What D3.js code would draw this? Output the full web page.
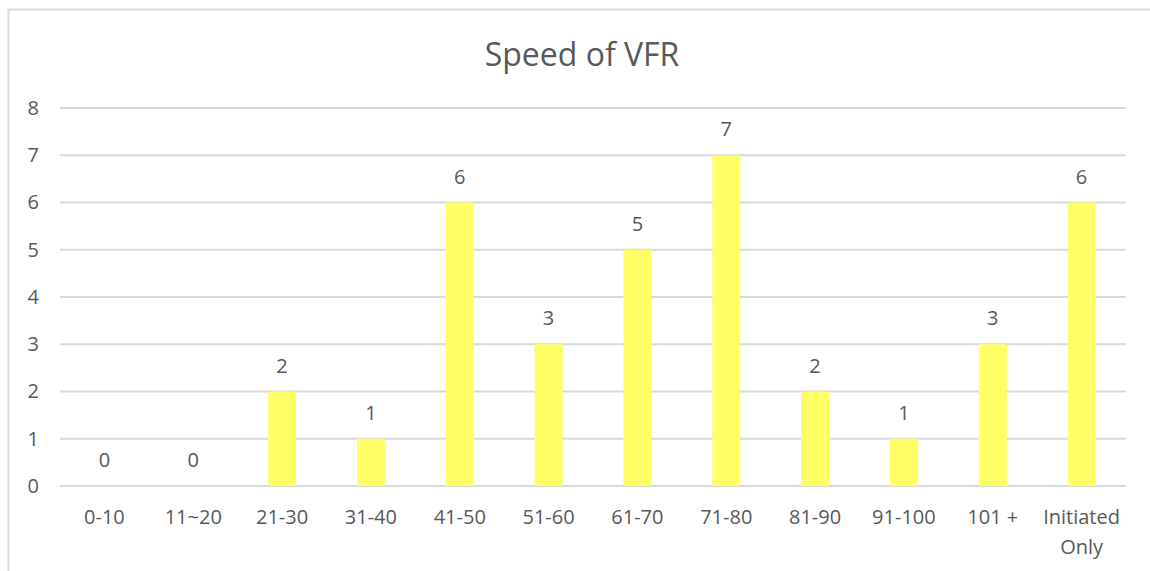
<!DOCTYPE html>
<html>
<head>
<meta charset="utf-8">
<script src="https://cdn.jsdelivr.net/npm/d3@7"></script>
<style>
  html, body { margin: 0; padding: 0; background: #fff; }
  svg { display: block; }
  text { font-family: "Open Sans", "Noto Sans", sans-serif; fill: #595959; }
</style>
</head>
<body>
<svg id="chart" width="1150" height="571"></svg>
<script>
// Speed ranges and the number of VFR events in each
const categories = ["0-10", "11~20", "21-30", "31-40", "41-50", "51-60", "61-70", "71-80", "81-90", "91-100", "101 +", "Initiated Only"];
const counts = [0, 0, 2, 1, 6, 3, 5, 7, 2, 1, 3, 6];
const yTicks = [0, 1, 2, 3, 4, 5, 6, 7, 8];
const title = "Speed of VFR";

const svg = d3.select("#chart");
const W = 1150, H = 571;
const plot = { left: 60, right: 1126, top: 108, bottom: 486 };
const fs = 20;

// chart frame
svg.append("rect")
  .attr("x", 8.5).attr("y", 9.5)
  .attr("width", W + 10).attr("height", H + 10)
  .attr("fill", "#fff").attr("stroke", "#d9d9d9").attr("stroke-width", 2);

const x = d3.scaleBand()
  .domain(categories)
  .range([plot.left, plot.right])
  .paddingInner(0.685).paddingOuter(0.3425);

const y = d3.scaleLinear().domain([0, 8]).range([plot.bottom, plot.top]);

// horizontal gridlines
svg.append("g")
  .selectAll("line")
  .data(yTicks)
  .join("line")
  .attr("x1", plot.left).attr("x2", plot.right)
  .attr("y1", d => y(d)).attr("y2", d => y(d))
  .attr("stroke", "#d9d9d9").attr("stroke-width", 2);

// y-axis labels
const yAxis = d3.axisLeft(y).tickValues(yTicks).tickSize(0).tickPadding(0);
const yg = svg.append("g").attr("transform", `translate(${plot.left - 21},0)`).call(yAxis);
yg.select(".domain").remove();
yg.selectAll("text")
  .attr("font-size", fs).attr("fill", "#595959")
  .attr("font-family", "Open Sans, Noto Sans, sans-serif");

// bars
svg.append("g")
  .selectAll("rect")
  .data(categories)
  .join("rect")
  .attr("x", d => x(d))
  .attr("width", x.bandwidth())
  .attr("y", (d, i) => y(counts[i]))
  .attr("height", (d, i) => y(0) - y(counts[i]))
  .attr("fill", "#ffff66");

// value labels
svg.append("g")
  .selectAll("text")
  .data(categories)
  .join("text")
  .attr("x", d => x(d) + x.bandwidth() / 2)
  .attr("y", (d, i) => y(counts[i]) - 19)
  .attr("text-anchor", "middle")
  .attr("font-size", fs)
  .text((d, i) => counts[i]);

// category labels (long names wrap onto two lines)
const xg = svg.append("g");
categories.forEach(c => {
  const cx = x(c) + x.bandwidth() / 2;
  const words = c === "Initiated Only" ? ["Initiated", "Only"] : [c];
  const t = xg.append("text")
    .attr("x", cx).attr("y", 524)
    .attr("text-anchor", "middle")
    .attr("font-size", fs);
  words.forEach((w, j) => {
    t.append("tspan").attr("x", cx).attr("dy", j === 0 ? 0 : 30).text(w);
  });
});

// title
svg.append("text")
  .attr("x", 582).attr("y", 66)
  .attr("text-anchor", "middle")
  .attr("font-size", 32)
  .text(title);
</script>
</body>
</html>
